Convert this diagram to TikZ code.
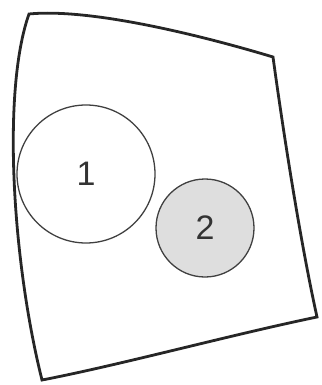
\documentclass[tikz,border=0pt]{standalone}
\usepackage{fontspec}
\setmainfont{Liberation Sans}
\begin{document}
\begin{tikzpicture}[x=1pt,y=-1pt,
  outline/.style={line width=2.8pt,line join=miter,color=black!85},
  region/.style={circle,draw=black!75,line width=1.3pt,inner sep=0pt,font=\fontsize{34}{34}\selectfont,text=black!80}]
\useasboundingbox (0,0) rectangle (321,385);
\draw[outline] (29,14) .. controls (90,8) and (200,35) .. (273,57)
  .. controls (283,130) and (300,240) .. (317,317)
  .. controls (230,335) and (120,365) .. (42,380)
  .. controls (12,260) and (2,90) .. cycle;
\node[region,minimum size=138pt] (r1) at (86,174) {1};
\node[region,minimum size=98pt,fill=black!13] (r2) at (205,228) {2};
\end{tikzpicture}
\end{document}
